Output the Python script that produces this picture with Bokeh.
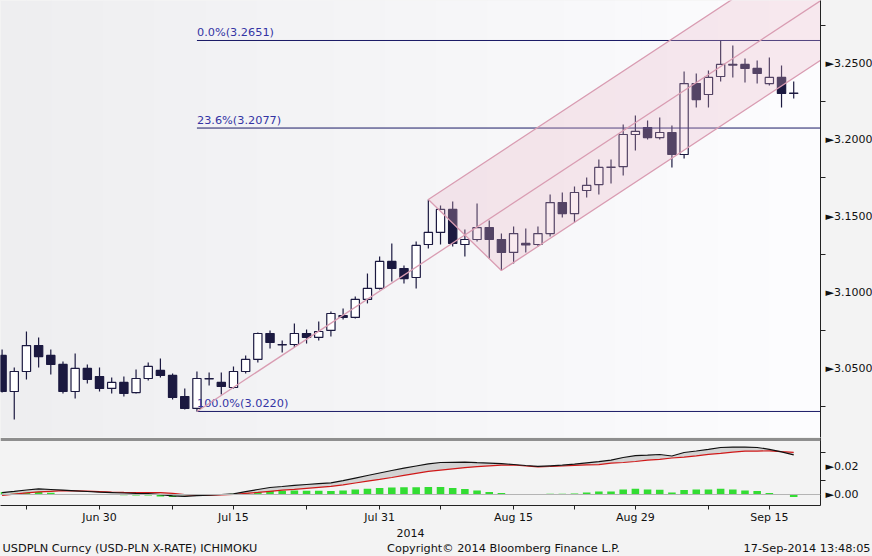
import numpy as np
import pandas as pd
from bokeh.plotting import figure
from bokeh.layouts import column
from bokeh.models import FixedTicker, CustomJSTickFormatter, Span, Range1d, BoxAnnotation
from bokeh.embed import file_html
from bokeh.resources import INLINE
from bokeh.core.properties import value

# ---------------- data ----------------
dates = pd.bdate_range("2014-06-18", "2014-09-17")  # 66 trading days

opens = [3.0587, 3.0351, 3.0482, 3.0652, 3.0587, 3.0528, 3.0351, 3.0502, 3.0449, 3.0371,
         3.0410, 3.0344, 3.0436, 3.0489, 3.0456, 3.0318, 3.0240, 3.0436, 3.0410, 3.0377,
         3.0482, 3.0561, 3.0731, 3.0659, 3.0659, 3.0731, 3.0705, 3.0751, 3.0849, 3.0836,
         3.0954, 3.1026, 3.1203, 3.1157, 3.1098, 3.1314, 3.1393, 3.1544, 3.1314, 3.1347,
         3.1425, 3.1347, 3.1262, 3.1321, 3.1314, 3.1386, 3.1589, 3.1517, 3.1668, 3.1707,
         3.1819, 3.1825, 3.2035, 3.2081, 3.2015, 3.2048, 3.1904, 3.2369, 3.2297, 3.2415,
         3.2494, 3.2494, 3.2468, 3.2369, 3.2409, 3.2304]
closes = [3.0351, 3.0482, 3.0652, 3.0580, 3.0528, 3.0351, 3.0502, 3.0430, 3.0371, 3.0410,
          3.0338, 3.0436, 3.0515, 3.0456, 3.0312, 3.0240, 3.0436, 3.0433, 3.0384, 3.0482,
          3.0561, 3.0731, 3.0672, 3.0656, 3.0731, 3.0705, 3.0744, 3.0862, 3.0836, 3.0954,
          3.1026, 3.1203, 3.1157, 3.1091, 3.1308, 3.1393, 3.1544, 3.1321, 3.1347, 3.1425,
          3.1347, 3.1262, 3.1386, 3.1311, 3.1386, 3.1589, 3.1517, 3.1655, 3.1701, 3.1819,
          3.1822, 3.2035, 3.2055, 3.2015, 3.2048, 3.1904, 3.2369, 3.2264, 3.2409, 3.2494,
          3.2490, 3.2468, 3.2435, 3.2409, 3.2304, 3.2307]
highs = [3.0626, 3.0508, 3.0744, 3.0705, 3.0626, 3.0548, 3.0600, 3.0528, 3.0508, 3.0443,
         3.0449, 3.0495, 3.0541, 3.0567, 3.0469, 3.0371, 3.0482, 3.0475, 3.0475, 3.0515,
         3.0587, 3.0738, 3.0751, 3.0685, 3.0797, 3.0757, 3.0810, 3.0875, 3.0895, 3.0973,
         3.1124, 3.1236, 3.1321, 3.1177, 3.1334, 3.1609, 3.1570, 3.1596, 3.1412, 3.1583,
         3.1471, 3.1386, 3.1432, 3.1419, 3.1432, 3.1642, 3.1655, 3.1694, 3.1753, 3.1871,
         3.1871, 3.2101, 3.2160, 3.2127, 3.2146, 3.2094, 3.2448, 3.2435, 3.2454, 3.2651,
         3.2618, 3.2533, 3.2520, 3.2540, 3.2487, 3.2382]
lows = [3.0344, 3.0167, 3.0430, 3.0508, 3.0462, 3.0338, 3.0305, 3.0403, 3.0351, 3.0338,
        3.0318, 3.0338, 3.0423, 3.0443, 3.0299, 3.0233, 3.0220, 3.0390, 3.0331, 3.0371,
        3.0469, 3.0541, 3.0633, 3.0606, 3.0639, 3.0665, 3.0685, 3.0711, 3.0823, 3.0829,
        3.0928, 3.1019, 3.1072, 3.1059, 3.1026, 3.1288, 3.1314, 3.1301, 3.1236, 3.1334,
        3.1223, 3.1144, 3.1190, 3.1262, 3.1301, 3.1367, 3.1491, 3.1458, 3.1622, 3.1642,
        3.1714, 3.1766, 3.1930, 3.2002, 3.2002, 3.1819, 3.1878, 3.2212, 3.2212, 3.2382,
        3.2409, 3.2376, 3.2369, 3.2356, 3.2212, 3.2271]

macd_line = [0.00129, 0.00221, 0.00321, 0.00400, 0.00357, 0.00314, 0.00264, 0.00214, 0.00164, 0.00136,
             0.00107, 0.00079, 0.00057, -0.00007, -0.00093, -0.00136, -0.00079, -0.00043, 0.00000, 0.00050,
             0.00207, 0.00357, 0.00500, 0.00571, 0.00650, 0.00714, 0.00779, 0.00829, 0.00986, 0.01171,
             0.01357, 0.01536, 0.01714, 0.01879, 0.02036, 0.02186, 0.02286, 0.02300, 0.02307, 0.02271,
             0.02236, 0.02200, 0.02143, 0.02071, 0.02007, 0.02050, 0.02093, 0.02164, 0.02257, 0.02343,
             0.02457, 0.02643, 0.02771, 0.02807, 0.02857, 0.02750, 0.03000, 0.03107, 0.03229, 0.03357,
             0.03386, 0.03379, 0.03357, 0.03229, 0.03043, 0.02836]
signal_line = [-0.00057, 0.00029, 0.00114, 0.00186, 0.00229, 0.00271, 0.00264, 0.00236, 0.00207, 0.00179,
               0.00157, 0.00143, 0.00136, 0.00129, 0.00079, -0.00014, -0.00064, -0.00050, -0.00029, 0.00000,
               0.00079, 0.00150, 0.00229, 0.00307, 0.00371, 0.00443, 0.00514, 0.00579, 0.00693, 0.00821,
               0.00950, 0.01079, 0.01214, 0.01364, 0.01514, 0.01650, 0.01743, 0.01829, 0.01914, 0.01986,
               0.02050, 0.02100, 0.02107, 0.02036, 0.01971, 0.02000, 0.02036, 0.02086, 0.02114, 0.02129,
               0.02243, 0.02286, 0.02357, 0.02450, 0.02514, 0.02607, 0.02671, 0.02757, 0.02871, 0.02943,
               0.03029, 0.03093, 0.03100, 0.03121, 0.03057, 0.03007]

fib_pcts = [0.0, 23.6, 100.0]
fib_low_date = "2014-07-10"
fib_high_date = "2014-09-09"
fork_a_date, fork_b_date, fork_c_date = "2014-07-10", "2014-08-06", "2014-08-14"

tick_dates = ["2014-06-20", "2014-06-30", "2014-07-08", "2014-07-15", "2014-07-23", "2014-07-31",
              "2014-08-07", "2014-08-15", "2014-08-22", "2014-08-29", "2014-09-08", "2014-09-15"]
tick_labels = ["", "Jun 30", "", "Jul 15", "", "Jul 31", "", "Aug 15", "", "Aug 29", "", "Sep 15"]
year_label = "2014"
price_ticks = [3.05, 3.10, 3.15, 3.20, 3.25]
price_minor = [3.025, 3.075, 3.125, 3.175, 3.225, 3.275]
macd_ticks = [0.00, 0.02]
macd_minor = [0.01, 0.03]
footer_left = "USDPLN Curncy (USD-PLN X-RATE) ICHIMOKU"
footer_mid = "Copyright\u00a9 2014 Bloomberg Finance L.P."
footer_right = "17-Sep-2014 13:48:05"

# ---------------- helpers ----------------
pos = {d.strftime("%Y-%m-%d"): i for i, d in enumerate(dates)}
idx = np.arange(len(dates))
o = np.array(opens); c = np.array(closes); h = np.array(highs); l = np.array(lows)
FONT = "DejaVu Sans"
DARK = "#1b1940"
BORDER = "#f3f3f3"
X0, X1 = -0.13, 67.2
XE = 75.0

# ---------------- main panel ----------------
p1 = figure(frame_width=820, frame_height=437, x_range=Range1d(X0, X1),
            y_range=Range1d(3.00494, 3.29131), x_axis_location=None, y_axis_location="right",
            toolbar_location=None, output_backend="svg",
            min_border_left=0, min_border_top=0, min_border_bottom=0, min_border_right=0,
            background_fill_color="#f6f6f8", border_fill_color=BORDER, outline_line_color=None)
p1.grid.visible = False

# subtle left-to-right background shading (styling only)
NS = 32
for k in range(NS):
    t = k / (NS - 1)
    g = int(round(0xee + t * (0xfc - 0xee)))
    col = "#%02x%02x%02x" % (g, g, min(255, g + 2))
    p1.add_layout(BoxAnnotation(left=X0 + (X1 - X0) * k / NS, right=X0 + (X1 - X0) * (k + 1) / NS + 0.05,
                                fill_color=col, fill_alpha=1.0, line_color=None, level="underlay"))

ya = p1.yaxis[0]
ya.ticker = FixedTicker(ticks=price_ticks, minor_ticks=price_minor)
ya.formatter = CustomJSTickFormatter(code="return '\\u25BA' + tick.toFixed(4);")
ya.major_tick_out = 0; ya.major_tick_in = 0
ya.minor_tick_out = 5; ya.minor_tick_in = 0
ya.major_label_standoff = 0
ya.axis_line_color = "#222222"; ya.minor_tick_line_color = "#222222"
ya.major_label_text_font = FONT; ya.major_label_text_font_size = "11px"
ya.major_label_text_color = "#111111"

# candles
p1.segment(x0=idx, y0=l, x1=idx, y1=h, line_color=DARK, line_width=1.2)
fill = np.where(c >= o, "#ffffff", DARK)
p1.vbar(x=idx, width=0.68, top=np.maximum(o, c), bottom=np.minimum(o, c),
        fill_color=list(fill), line_color=DARK, line_width=1.2)

# fibonacci retracement
fl, fh = pos[fib_low_date], pos[fib_high_date]
lo, hi = l[fl], h[fh]
for pct in fib_pcts:
    lev = hi - pct / 100.0 * (hi - lo)
    p1.segment(x0=[fl], y0=[lev], x1=[XE], y1=[lev], line_color="#1a1a66", line_width=1)
    p1.text(x=[fl], y=[lev], text=[f"{pct:.1f}%({lev:.4f})"], text_font=value(FONT),
            text_font_size="11.3px", text_color="#3434a4", text_baseline="bottom",
            text_align="left", y_offset=-1)

# Andrews pitchfork
ia, ib, ic = pos[fork_a_date], pos[fork_b_date], pos[fork_c_date]
ax_, ay_ = ia, l[ia]
bx_, by_ = ib, h[ib]
cx_, cy_ = ic, l[ic]
mx_, my_ = (bx_ + cx_) / 2, (by_ + cy_) / 2
slope = (my_ - ay_) / (mx_ - ax_)
PINK = "#d99cb2"
p1.patch(x=[bx_, XE, XE, cx_], y=[by_, by_ + slope * (XE - bx_), cy_ + slope * (XE - cx_), cy_],
         fill_color="#e9b2c6", fill_alpha=0.28, line_color=PINK, line_width=1.3)
p1.line(x=[ax_, XE], y=[ay_, ay_ + slope * (XE - ax_)], line_color=PINK, line_width=1.3)

# ---------------- MACD panel ----------------
m = np.array(macd_line); s = np.array(signal_line)
p2 = figure(frame_width=820, frame_height=68, x_range=p1.x_range,
            y_range=Range1d(-0.007857, 0.040714), y_axis_location="right",
            toolbar_location=None, output_backend="svg",
            min_border_left=0, min_border_top=0, min_border_bottom=0, min_border_right=0,
            background_fill_color="#f3f3f3", border_fill_color=BORDER, outline_line_color=None)
p2.grid.visible = False
p2.add_layout(Span(location=0, dimension="width", line_color="#b4b4b4", line_width=1))
p2.vbar(x=idx, width=0.62, top=m - s, bottom=0, fill_color="#33dd33", line_color=None)
p2.varea(x=idx, y1=m, y2=s, fill_color="#cfcfcf", fill_alpha=0.9)
p2.line(x=idx, y=s, line_color="#d01818", line_width=1.2)
p2.line(x=idx, y=m, line_color="#111111", line_width=1.2)
p2.add_layout(Span(location=0.03929, dimension="width", line_color="#8e8e8e", line_width=3))

y2 = p2.yaxis[0]
y2.ticker = FixedTicker(ticks=macd_ticks, minor_ticks=macd_minor)
y2.formatter = CustomJSTickFormatter(code="return '\\u25BA' + tick.toFixed(2);")
y2.major_tick_out = 0; y2.major_tick_in = 0
y2.minor_tick_out = 5; y2.minor_tick_in = 0
y2.major_label_standoff = 0
y2.axis_line_color = "#222222"; y2.minor_tick_line_color = "#222222"
y2.major_label_text_font = FONT; y2.major_label_text_font_size = "11px"
y2.major_label_text_color = "#111111"

x2 = p2.xaxis[0]
tick_idx = [pos[d] for d in tick_dates]
x2.ticker = FixedTicker(ticks=tick_idx, minor_ticks=[])
x2.major_label_overrides = {i: t for i, t in zip(tick_idx, tick_labels)}
x2.major_tick_out = 4; x2.major_tick_in = 0
x2.major_label_standoff = 1
x2.axis_line_color = "#222222"; x2.major_tick_line_color = "#222222"
x2.major_label_text_font = FONT; x2.major_label_text_font_size = "11px"
x2.major_label_text_color = "#111111"

# ---------------- footer ----------------
p3 = figure(frame_width=872, frame_height=32, x_range=Range1d(0, 872), y_range=Range1d(0, 32),
            x_axis_location=None, y_axis_location=None, toolbar_location=None,
            output_backend="svg", min_border=0, background_fill_color=None,
            border_fill_color=None, outline_line_color=None)
p3.grid.visible = False
p3.text(x=[410], y=[26], text=[year_label], text_font=value(FONT), text_font_size="11px",
        text_color="#111111", text_align="center", text_baseline="middle")
for xx, txt, al in [(2, footer_left, "left"), (503, footer_mid, "center"), (870, footer_right, "right")]:
    p3.text(x=[xx], y=[10], text=[txt], text_font=value(FONT), text_font_size="11.3px",
            text_color="#111111", text_align=al, text_baseline="middle")

layout = column(p1, p2, p3, spacing=0)
layout.styles = {"background-color": BORDER}
open("out.html", "w").write(file_html(layout, INLINE))
